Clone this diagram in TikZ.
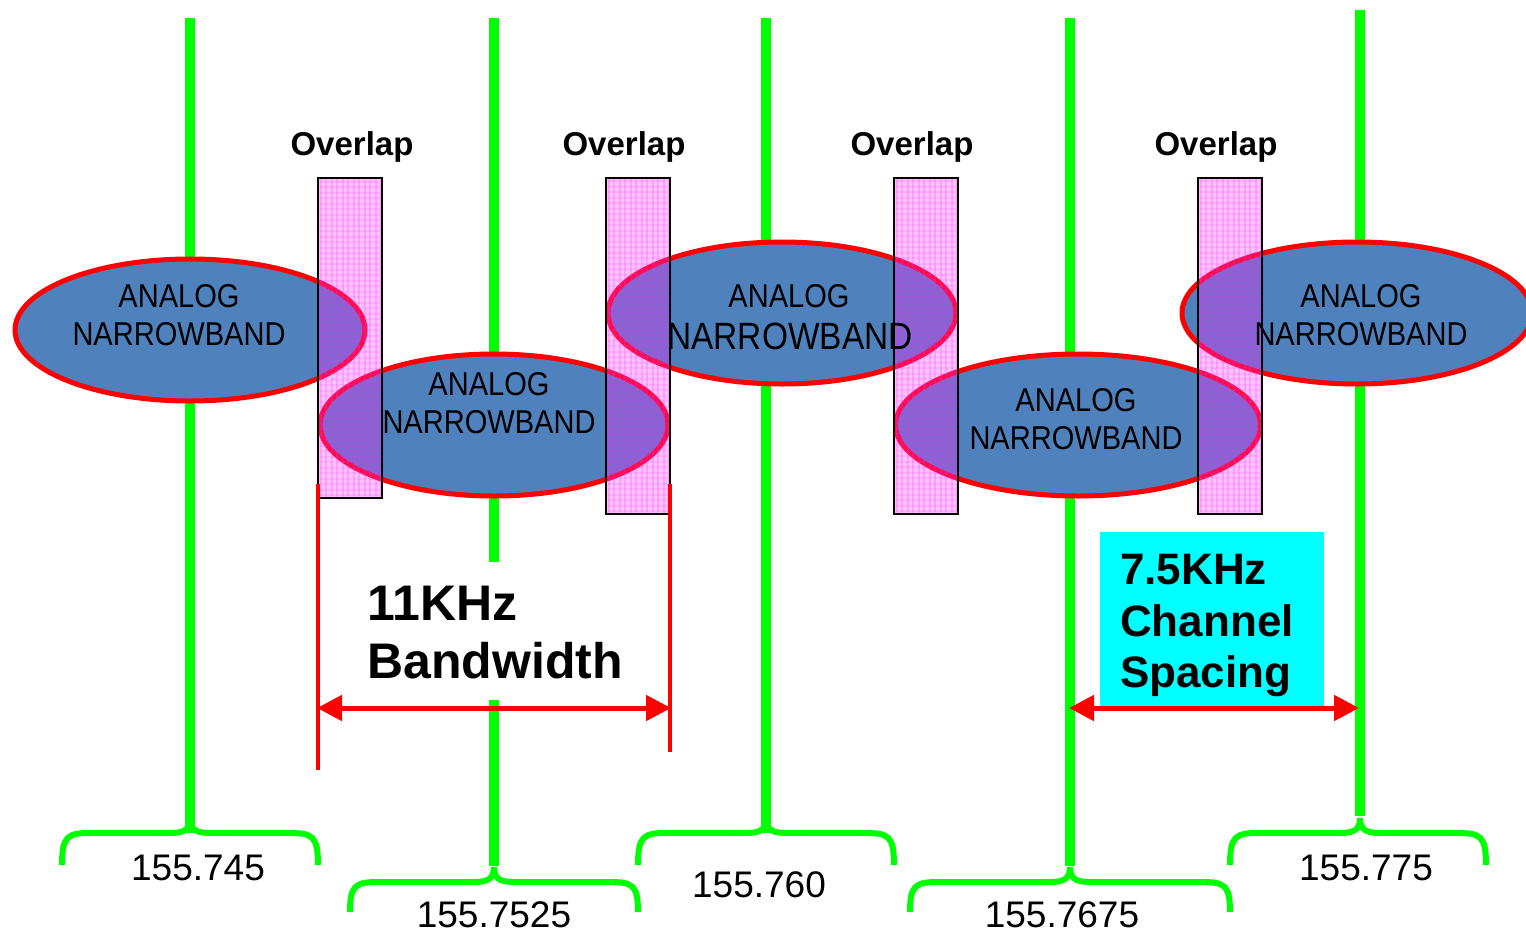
\documentclass[tikz,border=0pt]{standalone}
\usepackage{fontspec}
\setmainfont{Liberation Sans}
\newfontfamily\narrowsf[FakeStretch=0.88]{Liberation Sans}
\usetikzlibrary{arrows.meta,shapes.geometric}
\definecolor{gline}{RGB}{0,255,0}
\definecolor{ellfill}{RGB}{79,129,189}
\definecolor{cyanbox}{RGB}{0,255,255}
\definecolor{pinkbox}{RGB}{255,40,255}
\tikzset{
  gl/.style={draw=gline,line width=10pt},
  gbr/.style={draw=gline,line width=6pt},
  band/.style={ellipse,draw=red,line width=5pt,fill=ellfill,minimum height=142pt,inner sep=0pt},
  etext/.style={font=\narrowsf\fontsize{33}{38}\selectfont,anchor=base,inner sep=0pt},
  obox/.style={fill=pinkbox,fill opacity=0.28,minimum width=64pt,inner sep=0pt},
  oframe/.style={draw=black,line width=2pt},
  ostripe/.style={draw=pinkbox,opacity=0.22,line width=2pt},
  olabel/.style={font=\bfseries\fontsize{33}{40}\selectfont,anchor=base,inner sep=0pt},
  redline/.style={draw=red,line width=4pt},
  redarrow/.style={draw=red,line width=5pt,{Triangle[length=25pt 0,width=25pt 0]}-{Triangle[length=25pt 0,width=25pt 0]},shorten <=-1pt,shorten >=-1pt},
  bigtext/.style={font=\bfseries\fontsize{50}{58}\selectfont,anchor=base west,inner sep=0pt},
  cytext/.style={font=\bfseries\fontsize{44}{51}\selectfont,anchor=base west,inner sep=0pt},
  freq/.style={font=\fontsize{37}{40}\selectfont,anchor=base,inner sep=0pt}
}
\newcommand\gbrace[5]{% xl xr xc yh yend
  \draw[gbr] (#1,#5) .. controls (#1,{#4+2}) and ({#1+6},#4) .. ({#1+30},#4)
    -- ({#3-20},#4) .. controls ({#3-5},#4) and (#3,{#4-4}) .. (#3,{#4-15})
    .. controls (#3,{#4-4}) and ({#3+5},#4) .. ({#3+20},#4)
    -- ({#2-30},#4) .. controls ({#2-6},#4) and (#2,{#4+2}) .. (#2,#5);
}
\newcommand\gingham[1]{%
  \begin{scope}
    \clip (#1.south west) rectangle (#1.north east);
    \foreach \s in {3,8.5,...,64} {
      \draw[ostripe] ([xshift=\s pt]#1.south west) -- ([xshift=\s pt]#1.north west);
    }
    \foreach \s in {3,8.5,...,340} {
      \draw[ostripe,opacity=0.12] ([yshift=\s pt]#1.south west) -- ([yshift=\s pt]#1.south east);
    }
  \end{scope}
  \draw[oframe] (#1.south west) rectangle (#1.north east);
}
\begin{document}
\begin{tikzpicture}[x=1pt,y=-1pt]
\useasboundingbox (0,0) rectangle (1526,932);
\fill[white] (0,0) rectangle (1526,932);

% green channel lines
\coordinate (g1t) at (190,18);  \coordinate (g1b) at (190,833);
\coordinate (g2t) at (494,18);  \coordinate (g2b) at (494,866);
\coordinate (g3t) at (766,18);  \coordinate (g3b) at (766,833);
\coordinate (g4t) at (1070,18); \coordinate (g4b) at (1070,866);
\coordinate (g5t) at (1360,10); \coordinate (g5b) at (1360,816);
\foreach \i in {1,...,5} { \draw[gl] (g\i t) -- (g\i b); }

% braces
\gbrace{62}{318}{190}{833}{865}
\gbrace{350}{638}{494}{882}{912}
\gbrace{638}{894}{766}{833}{865}
\gbrace{910}{1230}{1070}{882}{912}
\gbrace{1230}{1486}{1360}{833}{865}

% frequency labels
\node[freq] (f1) at (198,880) {155.745};
\node[freq] (f2) at (494,927) {155.7525};
\node[freq] (f3) at (759,897) {155.760};
\node[freq] (f4) at (1062,927) {155.7675};
\node[freq] (f5) at (1366,880) {155.775};

% ellipses
\node[band,minimum width=350pt] (e1) at (190,330) {};
\node[band,minimum width=348pt] (e2) at (494,425) {};
\node[band,minimum width=348pt] (e3) at (782,313) {};
\node[band,minimum width=365pt] (e4) at (1078,425) {};
\node[band,minimum width=350pt] (e5) at (1357,313) {};

% overlap boxes
\node[obox,minimum height=320pt] (o1) at (350,338) {};
\node[obox,minimum height=336pt] (o2) at (638,346) {};
\node[obox,minimum height=336pt] (o3) at (926,346) {};
\node[obox,minimum height=336pt] (o4) at (1230,346) {};
\gingham{o1}\gingham{o2}\gingham{o3}\gingham{o4}
\node[olabel] (l1) at (352,155) {Overlap};
\node[olabel] (l2) at (624,155) {Overlap};
\node[olabel] (l3) at (912,155) {Overlap};
\node[olabel] (l4) at (1216,155) {Overlap};

% ellipse texts
\node[etext] (t1a) at (179,307) {ANALOG};
\node[etext] (t1b) at (179,345) {NARROWBAND};
\node[etext] (t2a) at (489,395) {ANALOG};
\node[etext] (t2b) at (489,433) {NARROWBAND};
\node[etext] (t3a) at (789,307) {ANALOG};
\node[etext,font=\narrowsf\fontsize{38}{42}\selectfont] (t3b) at (790,349) {NARROWBAND};
\node[etext] (t4a) at (1076,411) {ANALOG};
\node[etext] (t4b) at (1076,449) {NARROWBAND};
\node[etext] (t5a) at (1361,307) {ANALOG};
\node[etext] (t5b) at (1361,345) {NARROWBAND};

% bandwidth
\coordinate (r1t) at (318,484); \coordinate (r1b) at (318,770);
\coordinate (r2t) at (670,484); \coordinate (r2b) at (670,752);
\draw[redline] (r1t) -- (r1b);
\draw[redline] (r2t) -- (r2b);
\node[fill=white,minimum width=266pt,minimum height=138pt,inner sep=0pt] (bwbg) at (495,631) {};
\node[bigtext] (bw1) at (367,620) {11KHz};
\node[bigtext] (bw2) at (367,678) {Bandwidth};
\coordinate (a1l) at (318,708); \coordinate (a1r) at (670,708);
\draw[redarrow] (a1l) -- (a1r);

% channel spacing
\node[fill=cyanbox,minimum width=224pt,minimum height=174pt,inner sep=0pt] (cs) at (1212,619) {};
\node[cytext] (cs1) at (1120,584) {7.5KHz};
\node[cytext] (cs2) at (1120,636) {Channel};
\node[cytext] (cs3) at (1120,687) {Spacing};
\coordinate (a2l) at (1070,708); \coordinate (a2r) at (1358,708);
\draw[redarrow] (a2l) -- (a2r);
\end{tikzpicture}
\end{document}
